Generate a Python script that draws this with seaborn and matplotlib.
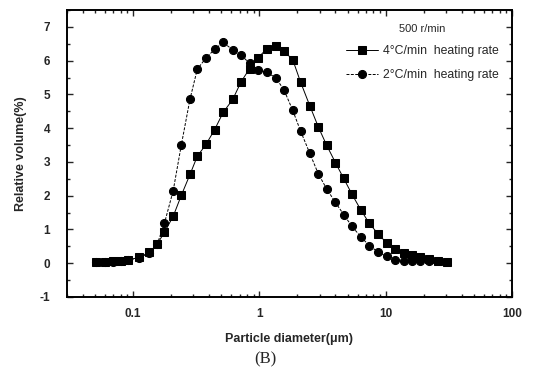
import matplotlib
matplotlib.use("Agg")
import matplotlib.pyplot as plt
import matplotlib.ticker as mticker
import seaborn as sns
import numpy as np
import pandas as pd

# particle diameters (um)
diam = [0.0509, 0.0600, 0.0698, 0.0803, 0.0907, 0.1121, 0.1345, 0.1556, 0.1774, 0.2079,
        0.2410, 0.2824, 0.3227, 0.3781, 0.4430, 0.5173, 0.6152, 0.7157, 0.8356, 0.9793,
        1.143, 1.347, 1.567, 1.837, 2.117, 2.504, 2.934, 3.414, 4.001, 4.654,
        5.414, 6.333, 7.422, 8.745, 10.19, 11.95, 13.90, 16.08, 18.70, 21.92,
        25.73, 30.43]

# 4 C/min heating rate (squares)
vol_4 = [0.04, 0.05, 0.06, 0.07, 0.10, 0.17, 0.32, 0.57, 0.92, 1.39,
         2.01, 2.63, 3.17, 3.52, 3.96, 4.47, 4.85, 5.37, 5.76, 6.09,
         6.35, 6.43, 6.28, 6.03, 5.37, 4.67, 4.03, 3.49, 2.98, 2.51,
         2.04, 1.59, 1.18, 0.86, 0.60, 0.43, 0.30, 0.24, 0.18, 0.12,
         0.07, 0.05]

# 2 C/min heating rate (circles)
vol_2 = [0.04, 0.04, 0.05, 0.07, 0.09, 0.16, 0.31, 0.57, 1.19, 2.15,
         3.50, 4.86, 5.75, 6.08, 6.34, 6.54, 6.32, 6.17, 5.92, 5.73,
         5.65, 5.50, 5.13, 4.53, 3.92, 3.26, 2.64, 2.20, 1.80, 1.44,
         1.09, 0.79, 0.52, 0.33, 0.20, 0.11, 0.08, 0.08, 0.08, 0.07]

label_4 = "4°C/min  heating rate"
label_2 = "2°C/min  heating rate"
legend_title = "500 r/min"
xtick_vals = [0.1, 1, 10, 100]
xtick_labels = ["0.1", "1", "10", "100"]
ytick_vals = [-1, 0, 1, 2, 3, 4, 5, 6, 7]

sns.set_style("ticks")
plt.rcParams['font.family'] = ['Liberation Sans', 'DejaVu Sans']
plt.rcParams['axes.unicode_minus'] = False

fig = plt.figure(figsize=(5.33, 3.78), dpi=100)
ax = fig.add_axes([0.1257, 0.2143, 0.8349, 0.7592])

df4 = pd.DataFrame({"d": diam, "v": vol_4})
df2 = pd.DataFrame({"d": diam[:len(vol_2)], "v": vol_2})

sns.lineplot(data=df4, x="d", y="v", ax=ax, color="black", linewidth=0.7,
             marker="s", markersize=5.2, markeredgecolor="black", label=label_4)
sns.lineplot(data=df2, x="d", y="v", ax=ax, color="black", linewidth=0.7,
             linestyle=(0, (3, 1.5)), marker="o", markersize=5.8,
             markeredgecolor="black", label=label_2)

ax.set_xscale("log")
ax.set_xlim(0.03, 100)
ax.set_ylim(-1, 7.5)
ax.set_xticks(xtick_vals)
ax.set_xticklabels(xtick_labels)
ax.xaxis.set_minor_locator(mticker.LogLocator(base=10, subs=np.arange(2, 10), numticks=20))
ax.xaxis.set_minor_formatter(mticker.NullFormatter())
ax.set_yticks(ytick_vals)
ax.yaxis.set_minor_locator(mticker.MultipleLocator(0.5))

ax.tick_params(which="both", direction="in", top=True, right=True, width=1.0)
ax.tick_params(which="major", length=4, labelsize=8.5)
ax.tick_params(axis="x", which="major", pad=8)
ax.tick_params(axis="y", which="major", pad=12)
ax.tick_params(which="minor", length=2.5)
for lbl in ax.get_xticklabels() + ax.get_yticklabels():
    lbl.set_fontweight("bold")
for sp in ax.spines.values():
    sp.set_linewidth(1.4)
    sp.set_color("black")

ax.set_xlabel("Particle diameter(\u03bcm)", fontsize=9, fontweight="bold", labelpad=9)
ax.set_ylabel("Relative volume(%)", fontsize=9, fontweight="bold", labelpad=9)

leg = ax.legend(loc="upper right", bbox_to_anchor=(0.995, 0.99), frameon=False,
                title=legend_title, fontsize=8.8, title_fontsize=8,
                handlelength=2.6, labelspacing=0.95, handletextpad=0.4)
leg._legend_box.align = "center"

fig.text(0.497, 0.05, "(B)", ha="center", va="center", fontsize=12,
         family=["Liberation Serif", "DejaVu Serif"])

fig.savefig("out.png", dpi=100)
